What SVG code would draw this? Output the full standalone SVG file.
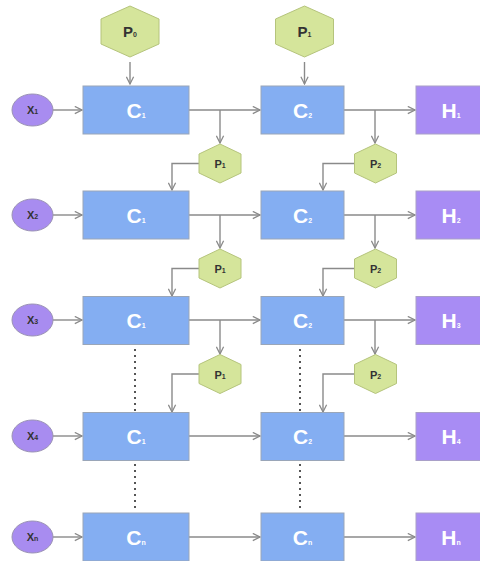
<svg xmlns="http://www.w3.org/2000/svg" width="480" height="561" viewBox="0 0 480 561">
  <defs>
    <marker id="arr" viewBox="0 0 10 10" refX="9" refY="5" markerWidth="9" markerHeight="9" markerUnits="userSpaceOnUse" orient="auto">
      <path d="M1,1 L9,5 L1,9" fill="none" stroke="#8a8a8a" stroke-width="1.4"/>
    </marker>
    <polygon id="hexL" points="0,-25.5 29,-12.5 29,12.5 0,25.5 -29,12.5 -29,-12.5"/>
    <polygon id="hexS" points="0,-19.5 21,-9.5 21,9.5 0,19.5 -21,9.5 -21,-9.5"/>
  </defs>
  <style>
    .box { fill: #84aef2; stroke: #9aa6b8; stroke-width: 1; }
    .out { fill: #a88cf4; stroke: #a9a0c8; stroke-width: 1; }
    .inp { fill: #a88cf0; stroke: #9a92b4; stroke-width: 1; }
    .hex { fill: #d5e59b; stroke: #b5c47c; stroke-width: 1; }
    .ln { fill: none; stroke: #8a8a8a; stroke-width: 1.4; }
    .arw { fill: none; stroke: #8a8a8a; stroke-width: 1.4; marker-end: url(#arr); }
    .dot { fill: none; stroke: #555; stroke-width: 2; stroke-dasharray: 2 4; }
    .wt { font-family: "Liberation Sans", Arial, sans-serif; font-weight: bold; font-size: 21px; fill: #ffffff; text-anchor: middle; }
    .dk { font-family: "Liberation Sans", Arial, sans-serif; font-weight: bold; fill: #333333; text-anchor: middle; }
    .sub { font-size: 7px; }
  </style>

  <!-- connectors -->
  <g id="connectors">
    <!-- inputs to first column -->
    <line class="arw" x1="53" y1="110" x2="82" y2="110"/>
    <line class="arw" x1="53" y1="215" x2="82" y2="215"/>
    <line class="arw" x1="53" y1="320" x2="82" y2="320"/>
    <line class="arw" x1="53" y1="436" x2="82" y2="436"/>
    <line class="arw" x1="53" y1="537" x2="82" y2="537"/>
    <!-- first column to second column -->
    <line class="arw" x1="189" y1="110" x2="260" y2="110"/>
    <line class="arw" x1="189" y1="215" x2="260" y2="215"/>
    <line class="arw" x1="189" y1="320" x2="260" y2="320"/>
    <line class="arw" x1="189" y1="436" x2="260" y2="436"/>
    <line class="arw" x1="189" y1="537" x2="260" y2="537"/>
    <!-- second column to outputs -->
    <line class="arw" x1="344" y1="110" x2="415" y2="110"/>
    <line class="arw" x1="344" y1="215" x2="415" y2="215"/>
    <line class="arw" x1="344" y1="320" x2="415" y2="320"/>
    <line class="arw" x1="344" y1="436" x2="415" y2="436"/>
    <line class="arw" x1="344" y1="537" x2="415" y2="537"/>
    <!-- top parameters -->
    <line class="arw" x1="130" y1="62" x2="130" y2="84"/>
    <line class="arw" x1="304.5" y1="62" x2="304.5" y2="84"/>
    <!-- branches down into small parameter nodes -->
    <line class="arw" x1="220" y1="110" x2="220" y2="143"/>
    <line class="arw" x1="220" y1="215" x2="220" y2="248"/>
    <line class="arw" x1="220" y1="320" x2="220" y2="354"/>
    <line class="arw" x1="375" y1="110" x2="375" y2="143"/>
    <line class="arw" x1="375" y1="215" x2="375" y2="248"/>
    <line class="arw" x1="375" y1="320" x2="375" y2="354"/>
    <!-- small parameter nodes into next row -->
    <polyline class="arw" points="199,163.5 172,163.5 172,190"/>
    <polyline class="arw" points="199,268.5 172,268.5 172,296"/>
    <polyline class="arw" points="199,374 172,374 172,412"/>
    <polyline class="arw" points="354,163.5 323,163.5 323,190"/>
    <polyline class="arw" points="354,268.5 323,268.5 323,296"/>
    <polyline class="arw" points="354,374 323,374 323,412"/>
    <!-- elided rows -->
    <line class="dot" x1="135" y1="349" x2="135" y2="411"/>
    <line class="dot" x1="135" y1="464" x2="135" y2="511"/>
    <line class="dot" x1="300" y1="349" x2="300" y2="411"/>
    <line class="dot" x1="300" y1="464" x2="300" y2="511"/>
  </g>

  <!-- top parameter nodes -->
  <g id="p-top-1"><use href="#hexL" class="hex" x="130" y="31.5"/><text class="dk" x="130" y="37" font-size="15">P<tspan class="sub">0</tspan></text></g>
  <g id="p-top-2"><use href="#hexL" class="hex" x="304.5" y="31.5"/><text class="dk" x="304.5" y="37" font-size="15">P<tspan class="sub">1</tspan></text></g>

  <!-- row 1 -->
  <g id="x1"><ellipse class="inp" cx="32.5" cy="110" rx="20.5" ry="16"/><text class="dk" x="32.5" y="114" font-size="11">X<tspan class="sub">1</tspan></text></g>
  <g id="c1-1"><rect class="box" x="83" y="86" width="106" height="48"/><text class="wt" x="136" y="118">C<tspan class="sub">1</tspan></text></g>
  <g id="c2-1"><rect class="box" x="261" y="86" width="83" height="48"/><text class="wt" x="302.5" y="118">C<tspan class="sub">2</tspan></text></g>
  <g id="h1"><rect class="out" x="416" y="86" width="70" height="48"/><text class="wt" x="451" y="118">H<tspan class="sub">1</tspan></text></g>
  <g id="p1-1"><use href="#hexS" class="hex" x="220" y="163.5"/><text class="dk" x="220" y="168" font-size="11">P<tspan class="sub">1</tspan></text></g>
  <g id="p2-1"><use href="#hexS" class="hex" x="375.5" y="163.5"/><text class="dk" x="375.5" y="168" font-size="11">P<tspan class="sub">2</tspan></text></g>

  <!-- row 2 -->
  <g id="x2"><ellipse class="inp" cx="32.5" cy="215" rx="20.5" ry="16"/><text class="dk" x="32.5" y="219" font-size="11">X<tspan class="sub">2</tspan></text></g>
  <g id="c1-2"><rect class="box" x="83" y="191" width="106" height="48"/><text class="wt" x="136" y="223">C<tspan class="sub">1</tspan></text></g>
  <g id="c2-2"><rect class="box" x="261" y="191" width="83" height="48"/><text class="wt" x="302.5" y="223">C<tspan class="sub">2</tspan></text></g>
  <g id="h2"><rect class="out" x="416" y="191" width="70" height="48"/><text class="wt" x="451" y="223">H<tspan class="sub">2</tspan></text></g>
  <g id="p1-2"><use href="#hexS" class="hex" x="220" y="268.5"/><text class="dk" x="220" y="273" font-size="11">P<tspan class="sub">1</tspan></text></g>
  <g id="p2-2"><use href="#hexS" class="hex" x="375.5" y="268.5"/><text class="dk" x="375.5" y="273" font-size="11">P<tspan class="sub">2</tspan></text></g>

  <!-- row 3 -->
  <g id="x3"><ellipse class="inp" cx="32.5" cy="320" rx="20.5" ry="16"/><text class="dk" x="32.5" y="324" font-size="11">X<tspan class="sub">3</tspan></text></g>
  <g id="c1-3"><rect class="box" x="83" y="296.5" width="106" height="48"/><text class="wt" x="136" y="328">C<tspan class="sub">1</tspan></text></g>
  <g id="c2-3"><rect class="box" x="261" y="296.5" width="83" height="48"/><text class="wt" x="302.5" y="328">C<tspan class="sub">2</tspan></text></g>
  <g id="h3"><rect class="out" x="416" y="296.5" width="70" height="48"/><text class="wt" x="451" y="328">H<tspan class="sub">3</tspan></text></g>
  <g id="p1-3"><use href="#hexS" class="hex" x="220" y="374"/><text class="dk" x="220" y="378.5" font-size="11">P<tspan class="sub">1</tspan></text></g>
  <g id="p2-3"><use href="#hexS" class="hex" x="375.5" y="374"/><text class="dk" x="375.5" y="378.5" font-size="11">P<tspan class="sub">2</tspan></text></g>

  <!-- row 4 -->
  <g id="x4"><ellipse class="inp" cx="32.5" cy="436" rx="20.5" ry="16"/><text class="dk" x="32.5" y="440" font-size="11">X<tspan class="sub">4</tspan></text></g>
  <g id="c1-4"><rect class="box" x="83" y="412.5" width="106" height="48"/><text class="wt" x="136" y="444">C<tspan class="sub">1</tspan></text></g>
  <g id="c2-4"><rect class="box" x="261" y="412.5" width="83" height="48"/><text class="wt" x="302.5" y="444">C<tspan class="sub">2</tspan></text></g>
  <g id="h4"><rect class="out" x="416" y="412.5" width="70" height="48"/><text class="wt" x="451" y="444">H<tspan class="sub">4</tspan></text></g>

  <!-- row n -->
  <g id="xn"><ellipse class="inp" cx="32.5" cy="537" rx="20.5" ry="16"/><text class="dk" x="32.5" y="541" font-size="11">X<tspan class="sub">n</tspan></text></g>
  <g id="c1-n"><rect class="box" x="83" y="513" width="106" height="48"/><text class="wt" x="136" y="545">C<tspan class="sub">n</tspan></text></g>
  <g id="c2-n"><rect class="box" x="261" y="513" width="83" height="48"/><text class="wt" x="302.5" y="545">C<tspan class="sub">n</tspan></text></g>
  <g id="hn"><rect class="out" x="416" y="513" width="70" height="48"/><text class="wt" x="451" y="545">H<tspan class="sub">n</tspan></text></g>
</svg>
